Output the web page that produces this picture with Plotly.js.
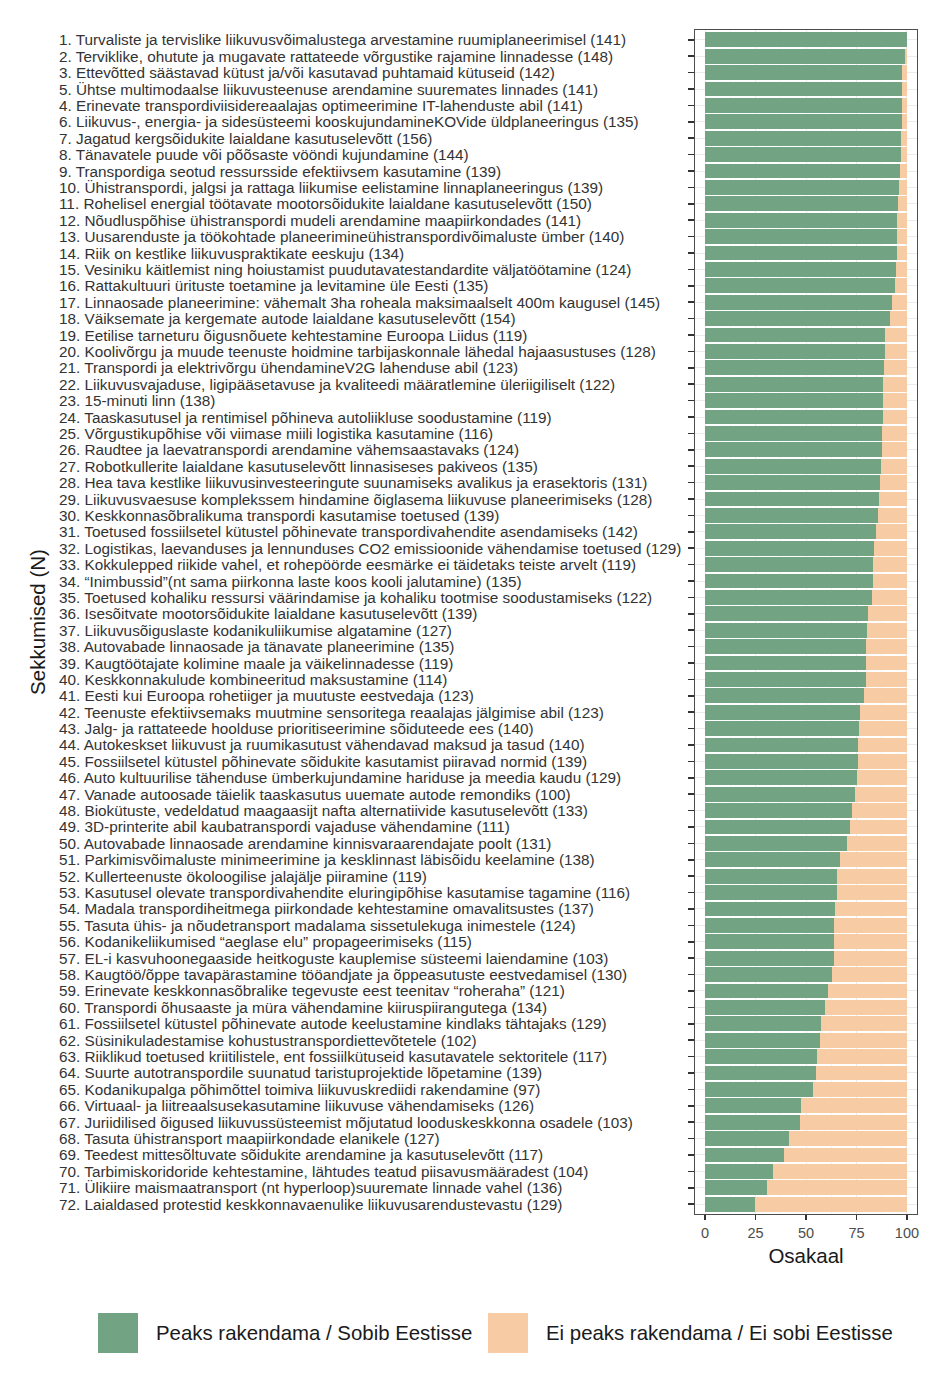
<!DOCTYPE html>
<html>
<head>
<meta charset="utf-8">
<script src="https://cdn.plot.ly/plotly-3.0.1.min.js"></script>
<style>html,body{margin:0;padding:0;background:#fff;}#chart{width:948px;height:1382px;}</style>
</head>
<body>
<div id="chart"></div>
<script>
const labels = [
"1. Turvaliste ja tervislike liikuvusvõimalustega arvestamine ruumiplaneerimisel (141)",
"2. Terviklike, ohutute ja mugavate rattateede võrgustike rajamine linnadesse (148)",
"3. Ettevõtted säästavad kütust ja/või kasutavad puhtamaid kütuseid (142)",
"5. Ühtse multimodaalse liikuvusteenuse arendamine suuremates linnades (141)",
"4. Erinevate transpordiviisidereaalajas optimeerimine IT-lahenduste abil (141)",
"6. Liikuvus-, energia- ja sidesüsteemi kooskujundamineKOVide üldplaneeringus (135)",
"7. Jagatud kergsõidukite laialdane kasutuselevõtt (156)",
"8. Tänavatele puude või põõsaste vööndi kujundamine (144)",
"9. Transpordiga seotud ressursside efektiivsem kasutamine (139)",
"10. Ühistranspordi, jalgsi ja rattaga liikumise eelistamine linnaplaneeringus (139)",
"11. Rohelisel energial töötavate mootorsõidukite laialdane kasutuselevõtt (150)",
"12. Nõudluspõhise ühistranspordi mudeli arendamine maapiirkondades (141)",
"13. Uusarenduste ja töökohtade planeerimineühistranspordivõimaluste ümber (140)",
"14. Riik on kestlike liikuvuspraktikate eeskuju (134)",
"15. Vesiniku käitlemist ning hoiustamist puudutavatestandardite väljatöötamine (124)",
"16. Rattakultuuri ürituste toetamine ja levitamine üle Eesti (135)",
"17. Linnaosade planeerimine: vähemalt 3ha roheala maksimaalselt 400m kaugusel (145)",
"18. Väiksemate ja kergemate autode laialdane kasutuselevõtt (154)",
"19. Eetilise tarneturu õigusnõuete kehtestamine Euroopa Liidus (119)",
"20. Koolivõrgu ja muude teenuste hoidmine tarbijaskonnale lähedal hajaasustuses (128)",
"21. Transpordi ja elektrivõrgu ühendamineV2G lahenduse abil (123)",
"22. Liikuvusvajaduse, ligipääsetavuse ja kvaliteedi määratlemine üleriigiliselt (122)",
"23. 15-minuti linn (138)",
"24. Taaskasutusel ja rentimisel põhineva autoliikluse soodustamine (119)",
"25. Võrgustikupõhise või viimase miili logistika kasutamine (116)",
"26. Raudtee ja laevatranspordi arendamine vähemsaastavaks (124)",
"27. Robotkullerite laialdane kasutuselevõtt linnasiseses pakiveos (135)",
"28. Hea tava kestlike liikuvusinvesteeringute suunamiseks avalikus ja erasektoris (131)",
"29. Liikuvusvaesuse komplekssem hindamine õiglasema liikuvuse planeerimiseks (128)",
"30. Keskkonnasõbralikuma transpordi kasutamise toetused (139)",
"31. Toetused fossiilsetel kütustel põhinevate transpordivahendite asendamiseks (142)",
"32. Logistikas, laevanduses ja lennunduses CO2 emissioonide vähendamise toetused (129)",
"33. Kokkulepped riikide vahel, et rohepöörde eesmärke ei täidetaks teiste arvelt (119)",
"34. “Inimbussid”(nt sama piirkonna laste koos kooli jalutamine) (135)",
"35. Toetused kohaliku ressursi väärindamise ja kohaliku tootmise soodustamiseks (122)",
"36. Isesõitvate mootorsõidukite laialdane kasutuselevõtt (139)",
"37. Liikuvusõiguslaste kodanikuliikumise algatamine (127)",
"38. Autovabade linnaosade ja tänavate planeerimine (135)",
"39. Kaugtöötajate kolimine maale ja väikelinnadesse (119)",
"40. Keskkonnakulude kombineeritud maksustamine (114)",
"41. Eesti kui Euroopa rohetiiger ja muutuste eestvedaja (123)",
"42. Teenuste efektiivsemaks muutmine sensoritega reaalajas jälgimise abil (123)",
"43. Jalg- ja rattateede hoolduse prioritiseerimine sõiduteede ees (140)",
"44. Autokeskset liikuvust ja ruumikasutust vähendavad maksud ja tasud (140)",
"45. Fossiilsetel kütustel põhinevate sõidukite kasutamist piiravad normid (139)",
"46. Auto kultuurilise tähenduse ümberkujundamine hariduse ja meedia kaudu (129)",
"47. Vanade autoosade täielik taaskasutus uuemate autode remondiks (100)",
"48. Biokütuste, vedeldatud maagaasijt nafta alternatiivide kasutuselevõtt (133)",
"49. 3D-printerite abil kaubatranspordi vajaduse vähendamine (111)",
"50. Autovabade linnaosade arendamine kinnisvaraarendajate poolt (131)",
"51. Parkimisvõimaluste minimeerimine ja kesklinnast läbisõidu keelamine (138)",
"52. Kullerteenuste ökoloogilise jalajälje piiramine (119)",
"53. Kasutusel olevate transpordivahendite eluringipõhise kasutamise tagamine (116)",
"54. Madala transpordiheitmega piirkondade kehtestamine omavalitsustes (137)",
"55. Tasuta ühis- ja nõudetransport madalama sissetulekuga inimestele (124)",
"56. Kodanikeliikumised “aeglase elu” propageerimiseks (115)",
"57. EL-i kasvuhoonegaaside heitkoguste kauplemise süsteemi laiendamine (103)",
"58. Kaugtöö/õppe tavapärastamine tööandjate ja õppeasutuste eestvedamisel (130)",
"59. Erinevate keskkonnasõbralike tegevuste eest teenitav “roheraha” (121)",
"60. Transpordi õhusaaste ja müra vähendamine kiiruspiirangutega (134)",
"61. Fossiilsetel kütustel põhinevate autode keelustamine kindlaks tähtajaks (129)",
"62. Süsinikuladestamise kohustustranspordiettevõtetele (102)",
"63. Riiklikud toetused kriitilistele, ent fossiilkütuseid kasutavatele sektoritele (117)",
"64. Suurte autotranspordile suunatud taristuprojektide lõpetamine (139)",
"65. Kodanikupalga põhimõttel toimiva liikuvuskrediidi rakendamine (97)",
"66. Virtuaal- ja liitreaalsusekasutamine liikuvuse vähendamiseks (126)",
"67. Juriidilised õigused liikuvussüsteemist mõjutatud looduskeskkonna osadele (103)",
"68. Tasuta ühistransport maapiirkondade elanikele (127)",
"69. Teedest mittesõltuvate sõidukite arendamine ja kasutuselevõtt (117)",
"70. Tarbimiskoridoride kehtestamine, lähtudes teatud piisavusmääradest (104)",
"71. Ülikiire maismaatransport (nt hyperloop)suuremate linnade vahel (136)",
"72. Laialdased protestid keskkonnavaenulike liikuvusarendustevastu (129)"
];

const sobib = [
100, 99.2, 97.7, 97.7, 97.7, 97.7, 97.2, 97.2, 96.4, 95.9,
95.4, 94.9, 94.9, 94.9, 94.4, 93.9, 92.6, 91.8, 89.3, 89.3,
88.8, 88.3, 88.3, 88.3, 87.8, 87.8, 87.3, 86.5, 86.0, 85.5,
84.5, 83.7, 83.2, 83.2, 82.7, 80.9, 80.4, 79.9, 79.9, 79.9,
78.9, 77.0, 76.5, 75.7, 75.7, 75.2, 74.2, 72.9, 71.9, 70.4,
66.6, 65.6, 65.6, 64.6, 64.1, 64.1, 64.1, 62.8, 61.0, 59.5,
57.2, 56.7, 55.3, 54.8, 53.3, 47.7, 47.2, 41.6, 39.3, 33.6, 30.8, 24.5
];

const eiSobi = [
0, 0.8, 2.3, 2.3, 2.3, 2.3, 2.8, 2.8, 3.6, 4.1,
4.6, 5.1, 5.1, 5.1, 5.6, 6.1, 7.4, 8.2, 10.7, 10.7,
11.2, 11.7, 11.7, 11.7, 12.2, 12.2, 12.7, 13.5, 14.0, 14.5,
15.5, 16.3, 16.8, 16.8, 17.3, 19.1, 19.6, 20.1, 20.1, 20.1,
21.1, 23.0, 23.5, 24.3, 24.3, 24.8, 25.8, 27.1, 28.1, 29.6,
33.4, 34.4, 34.4, 35.4, 35.9, 35.9, 35.9, 37.2, 39.0, 40.5,
42.8, 43.3, 44.7, 45.2, 46.7, 52.3, 52.8, 58.4, 60.7, 66.4, 69.2, 75.5
];

const seriesNames = ["Peaks rakendama / Sobib Eestisse", "Ei peaks rakendama / Ei sobi Eestisse"];
const xTicks = [0, 25, 50, 75, 100];

const GREEN = "#72A383";
const PEACH = "#F7CBA3";
const FONT = "Liberation Sans, Arial, sans-serif";

// plot area geometry (px)
const W = 948, H = 1382;
const mL = 695, mR = 31, mT = 30, mB = 168;
const pw = W - mL - mR, ph = H - mT - mB;
const px2x = p => (p - mL) / pw;
const py2y = p => (H - mB - p) / ph;

const traces = [
  {type: "bar", orientation: "h", name: seriesNames[0], y: labels, x: sobib,
   marker: {color: GREEN, line: {width: 0}}, width: 0.9, showlegend: false,
   hovertemplate: "%{y}<br>%{x}<extra>" + seriesNames[0] + "</extra>"},
  {type: "bar", orientation: "h", name: seriesNames[1], y: labels, x: eiSobi,
   marker: {color: PEACH, line: {width: 0}}, width: 0.9, showlegend: false,
   hovertemplate: "%{y}<br>%{x}<extra>" + seriesNames[1] + "</extra>"}
];

const annotations = labels.map(l => ({
  xref: "paper", yref: "y", x: px2x(57), y: l, text: l, showarrow: false,
  xanchor: "left", yanchor: "middle",
  font: {family: FONT, size: 15.3, color: "#333333"}
}));

// legend
const legendItems = [
  {x0: 98, text: 154, color: GREEN, name: seriesNames[0]},
  {x0: 488, text: 544, color: PEACH, name: seriesNames[1]}
];
const shapes = [];
legendItems.forEach(it => {
  shapes.push({type: "rect", xref: "paper", yref: "paper",
    x0: px2x(it.x0), x1: px2x(it.x0 + 40), y0: py2y(1313), y1: py2y(1353),
    fillcolor: it.color, line: {width: 0}});
  annotations.push({xref: "paper", yref: "paper", x: px2x(it.text), y: py2y(1333),
    text: it.name, showarrow: false, xanchor: "left", yanchor: "middle",
    font: {family: FONT, size: 20.4, color: "#1a1a1a"}});
});

const layout = {
  width: W, height: H,
  margin: {l: mL, r: mR, t: mT, b: mB, pad: 0},
  paper_bgcolor: "#fff", plot_bgcolor: "#fff",
  barmode: "stack", bargap: 0.1,
  showlegend: false,
  font: {family: FONT},
  xaxis: {
    range: [-5, 105], tickvals: xTicks, ticktext: xTicks.map(String),
    ticks: "outside", ticklen: 5, tickwidth: 1.2, tickcolor: "#333",
    tickfont: {family: FONT, size: 14.5, color: "#4D4D4D"},
    showgrid: true, gridcolor: "#EBEBEB", gridwidth: 1,
    minor: {dtick: 12.5, tick0: 0, showgrid: true, gridcolor: "#F2F2F2", gridwidth: 0.8},
    showline: true, mirror: true, linecolor: "#4D4D4D", linewidth: 1.2,
    zeroline: false, fixedrange: true,
    title: {text: "Osakaal", font: {family: FONT, size: 20.5, color: "#1a1a1a"}, standoff: 9}
  },
  yaxis: {
    type: "category", categoryorder: "array", categoryarray: labels,
    range: [labels.length - 0.4, -0.6],
    showticklabels: false, ticks: "outside", ticklen: 6, tickwidth: 1.5, tickcolor: "#333",
    showgrid: true, gridcolor: "#EBEBEB",
    showline: true, mirror: true, linecolor: "#4D4D4D", linewidth: 1.2,
    zeroline: false, fixedrange: true, automargin: false,
    title: {text: "Sekkumised (N)", font: {family: FONT, size: 20.5, color: "#1a1a1a"}, standoff: 636}
  },
  annotations: annotations,
  shapes: shapes
};

Plotly.newPlot("chart", traces, layout, {displayModeBar: false, staticPlot: true});
</script>
</body>
</html>
